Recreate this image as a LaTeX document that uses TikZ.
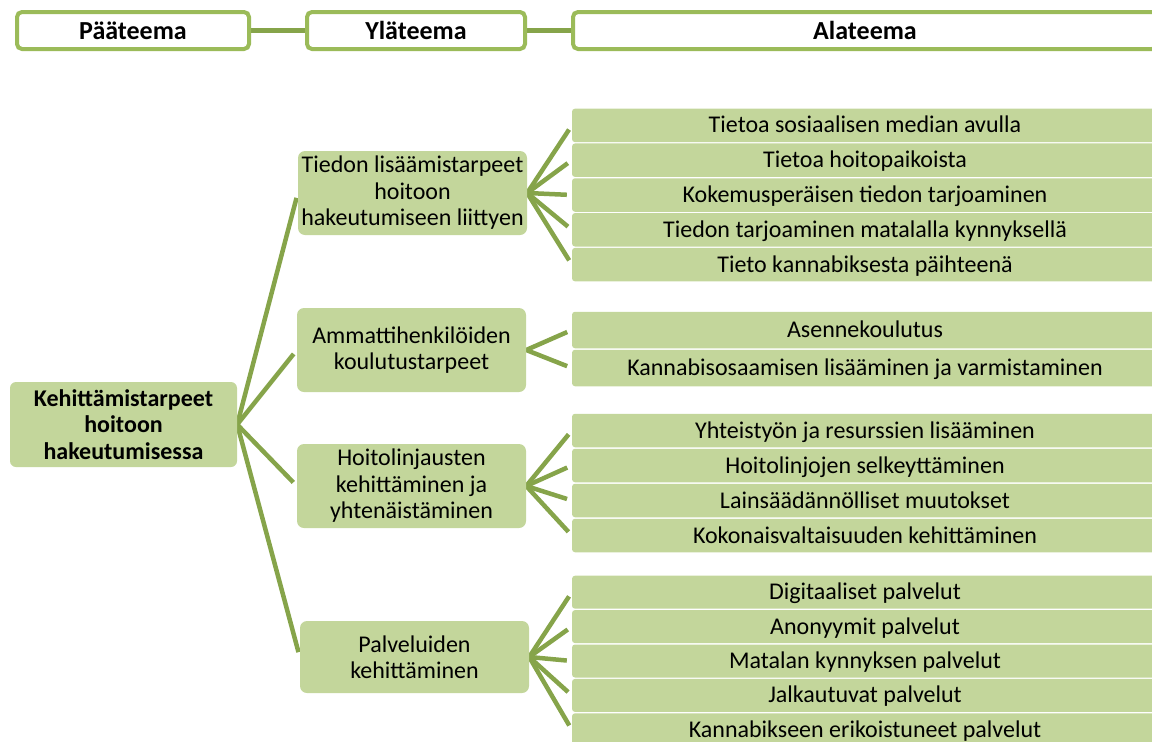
\documentclass[tikz,border=0pt]{standalone}
\usepackage{fontspec}
\setmainfont{Carlito}
\usetikzlibrary{backgrounds}

\definecolor{boxgreen}{RGB}{195,214,155}
\definecolor{linegreen}{RGB}{134,164,74}
\definecolor{framegreen}{RGB}{155,187,89}
\definecolor{joingreen}{RGB}{124,152,70}

\begin{document}
\begin{tikzpicture}[x=1pt, y=-1pt,
head node/.style={draw=framegreen, line width=4pt, fill=white, rounded corners=5pt, minimum height=37pt, inner sep=0pt, font=\fontsize{26}{28}\selectfont\bfseries},
main node/.style={fill=boxgreen, rounded corners=6pt, align=center, inner sep=0pt, minimum width=227pt, minimum height=85pt, font=\fontsize{24}{26.5}\selectfont\bfseries},
mid node/.style={fill=boxgreen, rounded corners=7pt, align=center, inner sep=0pt, minimum width=229pt, minimum height=84pt, font=\fontsize{24}{26.5}\selectfont},
sub node/.style={fill=boxgreen, rounded corners=3pt, inner sep=0pt, minimum width=586pt, minimum height=33.5pt, text height=17.5pt, text depth=2.5pt, font=\fontsize{24}{26}\selectfont},
link/.style={draw=linegreen, line width=4.5pt},
head link/.style={draw=joingreen, line width=5pt}]

\useasboundingbox (0,0) rectangle (1152,742);
\clip (0,0) rectangle (1152,742);

% headers
\node[head node, minimum width=232pt] (ph) at (133, 30.5) {Pääteema};
\node[head node, minimum width=218pt] (yh) at (416, 30.5) {Yläteema};
\node[head node, minimum width=584pt] (ah) at (865, 30.5) {Alateema};

% main theme
\node[main node] (main) at (123.5, 424.5) {Kehittämistarpeet\\hoitoon\\hakeutumisessa};

% upper themes
\node[mid node] (t1) at (412.5, 193) {Tiedon lisäämistarpeet\\hoitoon\\hakeutumiseen liittyen};
\node[mid node] (t2) at (411.5, 350) {Ammattihenkilöiden\\koulutustarpeet};
\node[mid node] (t3) at (411.5, 486) {Hoitolinjausten\\kehittäminen ja\\yhtenäistäminen};
\node[mid node, minimum height=72pt] (t4) at (414.5, 657) {Palveluiden\\kehittäminen};

% sub themes
% group 1
\node[sub node] (s11) at (865, 125.4) {Tietoa sosiaalisen median avulla};
\node[sub node] (s12) at (865, 160.2) {Tietoa hoitopaikoista};
\node[sub node] (s13) at (865, 195) {Kokemusperäisen tiedon tarjoaminen};
\node[sub node] (s14) at (865, 229.8) {Tiedon tarjoaminen matalalla kynnyksellä};
\node[sub node] (s15) at (865, 264.6) {Tieto kannabiksesta päihteenä};

% group 2
\node[sub node, minimum height=36.5pt] (s21) at (865, 330) {Asennekoulutus};
\node[sub node, minimum height=36.5pt] (s22) at (865, 368) {Kannabisosaamisen lisääminen ja varmistaminen};

% group 3
\node[sub node] (s31) at (865, 430.5) {Yhteistyön ja resurssien lisääminen};
\node[sub node] (s32) at (865, 465.5) {Hoitolinjojen selkeyttäminen};
\node[sub node] (s33) at (865, 500.5) {Lainsäädännölliset muutokset};
\node[sub node] (s34) at (865, 535.5) {Kokonaisvaltaisuuden kehittäminen};

% group 4
\node[sub node, minimum height=33pt] (s41) at (865, 592.2) {Digitaaliset palvelut};
\node[sub node, minimum height=33pt] (s42) at (865, 626.6) {Anonyymit palvelut};
\node[sub node, minimum height=33pt] (s43) at (865, 661) {Matalan kynnyksen palvelut};
\node[sub node, minimum height=33pt] (s44) at (865, 695.4) {Jalkautuvat palvelut};
\node[sub node, minimum height=33pt] (s45) at (865, 729.8) {Kannabikseen erikoistuneet palvelut};

\begin{pgfonlayer}{background}
\path
% header joins
(ph.east) [head link] edge (yh.west)
(yh.east) [head link] edge (ah.west)

% main -> upper themes
(main.east) [link, shorten >=5pt] edge (t1.west)
(main.east) [link, shorten >=5pt] edge (t2.west)
(main.east) [link, shorten >=5pt] edge (t3.west)
(main.east) [link, shorten >=5pt] edge (t4.west)

% group 1
(t1.east) [link] edge (s11.west)
(t1.east) [link] edge (s12.west)
(t1.east) [link] edge (s13.west)
(t1.east) [link] edge (s14.west)
(t1.east) [link] edge (s15.west)

% group 2
(t2.east) [link] edge (s21.west)
(t2.east) [link] edge (s22.west)

% group 3
(t3.east) [link] edge (s31.west)
(t3.east) [link] edge (s32.west)
(t3.east) [link] edge (s33.west)
(t3.east) [link] edge (s34.west)

% group 4
(t4.east) [link] edge (s41.west)
(t4.east) [link] edge (s42.west)
(t4.east) [link] edge (s43.west)
(t4.east) [link] edge (s44.west)
(t4.east) [link] edge (s45.west)
;
\end{pgfonlayer}

\end{tikzpicture}
\end{document}
